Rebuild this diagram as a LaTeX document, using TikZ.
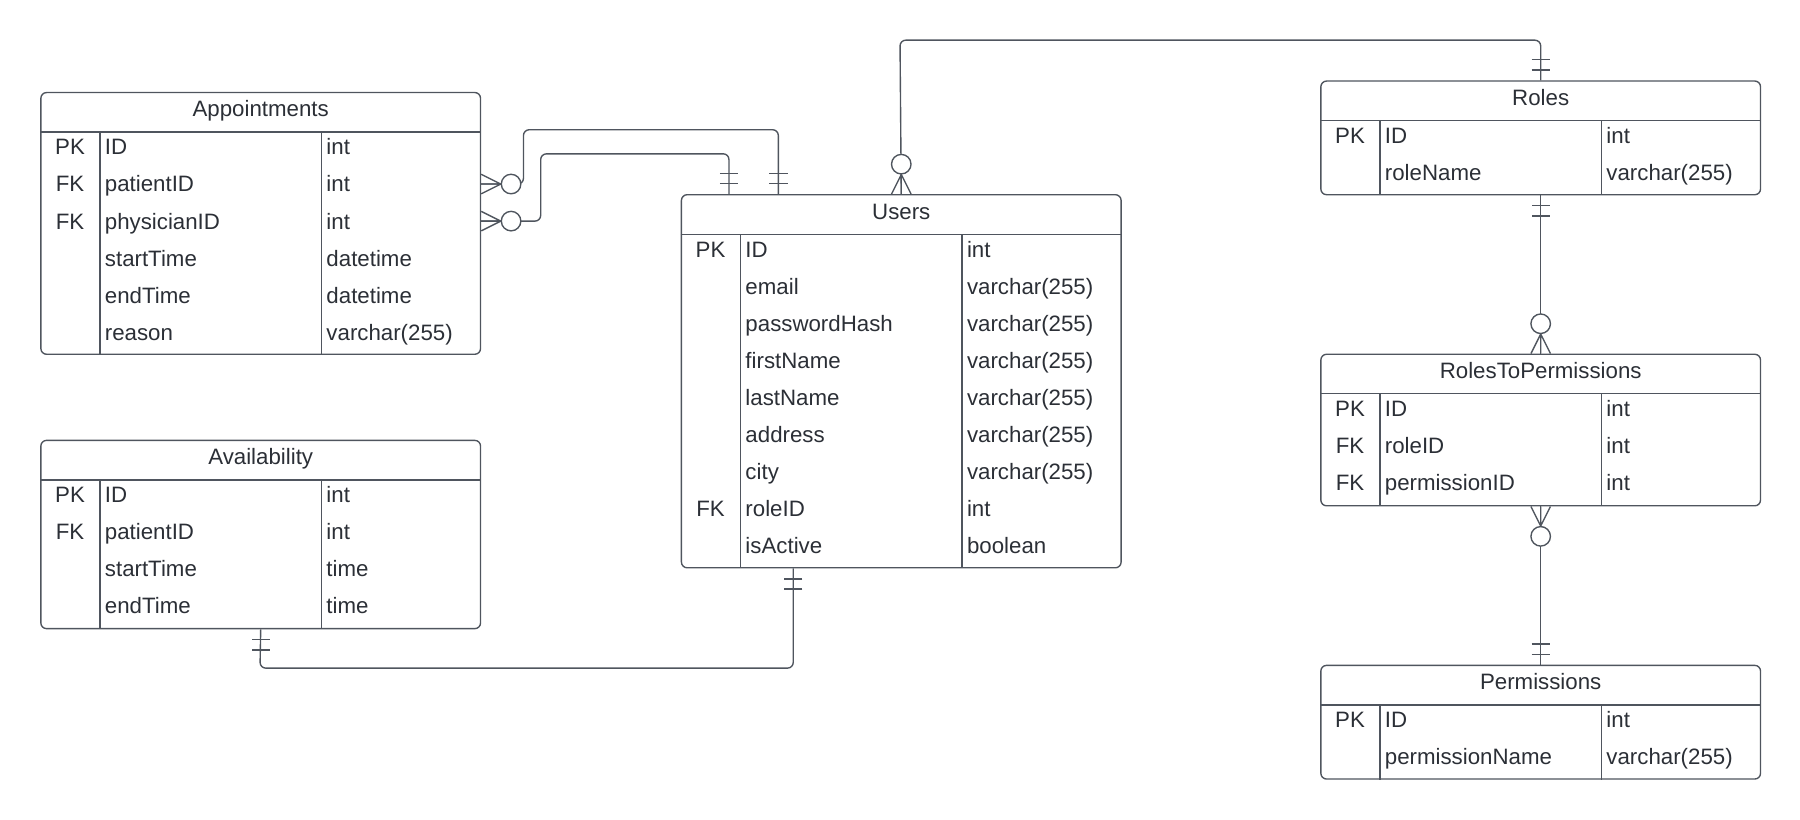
\documentclass[tikz,border=0pt]{standalone}
\usepackage{fontspec}
\setmainfont{Liberation Sans}
\definecolor{ink}{HTML}{2B2F36}
\definecolor{edge}{HTML}{4F555E}

\begin{document}
\begin{tikzpicture}[x=0.5pt,y=-0.5pt,
    every node/.style={inner sep=0pt, text=ink, font=\fontsize{9.7}{11}\selectfont},
    tbl/.style={draw=edge, line width=0.6pt, rounded corners=2.5pt, anchor=north west, minimum width=191.5pt},
    ln/.style={draw=edge, line width=0.6pt},
    fld/.style={anchor=west, text height=6.9pt, text depth=0pt},
    key/.style={anchor=center, text height=6.9pt, text depth=0pt},
    rel/.style={draw=edge, line width=0.6pt, rounded corners=2.5pt},
    one/.pic={\draw[ln] (9,-8) -- (9,8) (18,-8) -- (18,8);},
    zmany/.pic={\draw[ln] (0,-8.5) -- (17,0) -- (0,8.5) (0,0) -- (17,0);
                \draw[ln, fill=white] (26,0) circle[radius=4.25pt];}]
    \useasboundingbox (0,0) rectangle (1568,714.3);

    % Appointments
    \node[tbl, minimum height=114pt] (appt) at (35,80) {};
    \node[key] at ([yshift=-7.5pt]appt.north) {Appointments};
    \draw[ln] ([yshift=-17.5pt]appt.north west) -- ([yshift=-17.5pt]appt.north east);
    \draw[ln] ([shift={(52,35)}]appt.north west) -- ([xshift=26pt]appt.south west);
    \draw[ln] ([shift={(245,35)}]appt.north west) -- ([xshift=122.5pt]appt.south west);
    \foreach \k/\f/\t [count=\i] in {PK/ID/int, FK/patientID/int, FK/physicianID/int,
        {}/startTime/datetime, {}/endTime/datetime, {}/reason/varchar(255)} {
        \node[key] at ([shift={(26,48+32.3*\i-32.3)}]appt.north west) {\k};
        \node[fld] (appt-\i) at ([shift={(56,48+32.3*\i-32.3)}]appt.north west) {\f};
        \node[fld] at ([shift={(249,48+32.3*\i-32.3)}]appt.north west) {\t};
    }

    % Availability
    \node[tbl, minimum height=82pt] (avl) at (35,383) {};
    \node[key] at ([yshift=-7.5pt]avl.north) {Availability};
    \draw[ln] ([yshift=-17.5pt]avl.north west) -- ([yshift=-17.5pt]avl.north east);
    \draw[ln] ([shift={(52,35)}]avl.north west) -- ([xshift=26pt]avl.south west);
    \draw[ln] ([shift={(245,35)}]avl.north west) -- ([xshift=122.5pt]avl.south west);
    \foreach \k/\f/\t [count=\i] in {PK/ID/int, FK/patientID/int,
        {}/startTime/time, {}/endTime/time} {
        \node[key] at ([shift={(26,48+32.3*\i-32.3)}]avl.north west) {\k};
        \node[fld] (avl-\i) at ([shift={(56,48+32.3*\i-32.3)}]avl.north west) {\f};
        \node[fld] at ([shift={(249,48+32.3*\i-32.3)}]avl.north west) {\t};
    }

    % Users
    \node[tbl, minimum height=162.5pt] (usr) at (593,169) {};
    \node[key] at ([yshift=-7.5pt]usr.north) {Users};
    \draw[ln] ([yshift=-17.5pt]usr.north west) -- ([yshift=-17.5pt]usr.north east);
    \draw[ln] ([shift={(52,35)}]usr.north west) -- ([xshift=26pt]usr.south west);
    \draw[ln] ([shift={(245,35)}]usr.north west) -- ([xshift=122.5pt]usr.south west);
    \foreach \k/\f/\t [count=\i] in {PK/ID/int, {}/email/varchar(255),
        {}/passwordHash/varchar(255), {}/firstName/varchar(255), {}/lastName/varchar(255),
        {}/address/varchar(255), {}/city/varchar(255), FK/roleID/int, {}/isActive/boolean} {
        \node[key] at ([shift={(26,48+32.3*\i-32.3)}]usr.north west) {\k};
        \node[fld] (usr-\i) at ([shift={(56,48+32.3*\i-32.3)}]usr.north west) {\f};
        \node[fld] at ([shift={(249,48+32.3*\i-32.3)}]usr.north west) {\t};
    }

    % Roles
    \node[tbl, minimum height=49.5pt] (rol) at (1150,70) {};
    \node[key] at ([yshift=-7.5pt]rol.north) {Roles};
    \draw[ln] ([yshift=-17.5pt]rol.north west) -- ([yshift=-17.5pt]rol.north east);
    \draw[ln] ([shift={(52,35)}]rol.north west) -- ([xshift=26pt]rol.south west);
    \draw[ln] ([shift={(245,35)}]rol.north west) -- ([xshift=122.5pt]rol.south west);
    \foreach \k/\f/\t [count=\i] in {PK/ID/int, {}/roleName/varchar(255)} {
        \node[key] at ([shift={(26,48+32.3*\i-32.3)}]rol.north west) {\k};
        \node[fld] (rol-\i) at ([shift={(56,48+32.3*\i-32.3)}]rol.north west) {\f};
        \node[fld] at ([shift={(249,48+32.3*\i-32.3)}]rol.north west) {\t};
    }

    % RolesToPermissions
    \node[tbl, minimum height=66pt] (rtp) at (1150,308) {};
    \node[key] at ([yshift=-7.5pt]rtp.north) {RolesToPermissions};
    \draw[ln] ([yshift=-17.5pt]rtp.north west) -- ([yshift=-17.5pt]rtp.north east);
    \draw[ln] ([shift={(52,35)}]rtp.north west) -- ([xshift=26pt]rtp.south west);
    \draw[ln] ([shift={(245,35)}]rtp.north west) -- ([xshift=122.5pt]rtp.south west);
    \foreach \k/\f/\t [count=\i] in {PK/ID/int, FK/roleID/int, FK/permissionID/int} {
        \node[key] at ([shift={(26,48+32.3*\i-32.3)}]rtp.north west) {\k};
        \node[fld] (rtp-\i) at ([shift={(56,48+32.3*\i-32.3)}]rtp.north west) {\f};
        \node[fld] at ([shift={(249,48+32.3*\i-32.3)}]rtp.north west) {\t};
    }

    % Permissions
    \node[tbl, minimum height=49.5pt] (perm) at (1150,579) {};
    \node[key] at ([yshift=-7.5pt]perm.north) {Permissions};
    \draw[ln] ([yshift=-17.5pt]perm.north west) -- ([yshift=-17.5pt]perm.north east);
    \draw[ln] ([shift={(52,35)}]perm.north west) -- ([xshift=26pt]perm.south west);
    \draw[ln] ([shift={(245,35)}]perm.north west) -- ([xshift=122.5pt]perm.south west);
    \foreach \k/\f/\t [count=\i] in {PK/ID/int, {}/permissionName/varchar(255)} {
        \node[key] at ([shift={(26,48+32.3*\i-32.3)}]perm.north west) {\k};
        \node[fld] (perm-\i) at ([shift={(56,48+32.3*\i-32.3)}]perm.north west) {\f};
        \node[fld] at ([shift={(249,48+32.3*\i-32.3)}]perm.north west) {\t};
    }

    % relations
    \coordinate (u1) at ([xshift=42.5pt]usr.north west);
    \coordinate (u2) at ([xshift=21pt]usr.north west);
    \coordinate (u4) at ([xshift=49pt]usr.south west);
    \draw[rel] (appt.east |- appt-2) -| (456,113) -| (u1);
    \draw[rel] (appt.east |- appt-3) -| (471,134) -| (u2);
    \draw[rel] (usr.north) -- (784,35) -| (rol.north);
    \draw[rel] (rol.south) -- (rtp.north);
    \draw[rel] (rtp.south) -- (perm.north);
    \draw[rel] (avl.south) -- (226.5,582) -| (u4);

    \pic at (appt.east |- appt-2) {zmany};
    \pic at (appt.east |- appt-3) {zmany};
    \pic[rotate=90] at (u1) {one};
    \pic[rotate=90] at (u2) {one};
    \pic[rotate=90] at (usr.north) {zmany};
    \pic[rotate=90] at (rol.north) {one};
    \pic[rotate=-90] at (rol.south) {one};
    \pic[rotate=90] at (rtp.north) {zmany};
    \pic[rotate=-90] at (rtp.south) {zmany};
    \pic[rotate=90] at (perm.north) {one};
    \pic[rotate=-90] at (avl.south) {one};
    \pic[rotate=-90] at (u4) {one};
\end{tikzpicture}
\end{document}
